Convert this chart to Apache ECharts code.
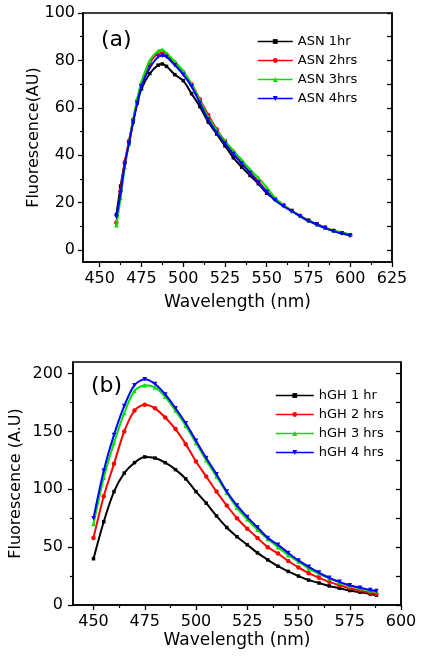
<!DOCTYPE html>
<html>
<head>
<meta charset="utf-8">
<script src="https://cdn.jsdelivr.net/npm/echarts@6/dist/echarts.min.js"></script>
<style>
html,body{margin:0;padding:0;background:#fff;}
#c{width:423px;height:661px;}
</style>
</head>
<body>
<div id="c"></div>
<script>
// ---------- Panel (a) data ----------
const waveA = [460,462.5,465,467.5,470,472.5,475,480,485,487.5,490,495,500,505,510,515,520,525,530,535,540,545,550,555,560,565,570,575,580,585,590,595,600];
const asn1 = [15,27,37,45,54,62,68,74.5,78,78.5,77.5,74,71.5,66,60.5,54,49,44,39,35,31.5,28,24,21.5,19,16.5,14.3,12.5,10.8,9.3,8.2,7.3,6.5];
const asn2 = [11.5,25,37,46,55,63,70,79,83,83.5,82.5,79,75,70,63.5,57,51,46,41.5,37,33,29,25,21.5,19,16.5,14.5,12.5,11,9.5,8.2,7.2,6.3];
const asn3 = [10.5,22,35,45,55,64,71,80,84,84.5,83,79.5,75.5,70,63,56,50.5,46,42,38,34,30.5,26.5,22,19,16.5,14.5,12.5,11,9.5,8.3,7.3,6.6];
const asn4 = [14,24,36,45,54,62,69,77,81.5,82,81.5,78,74,69,62,55,49.5,45,40.5,36.5,32.5,28.5,24.5,21,18.5,16.5,14.3,12.3,10.8,9.3,8,7,6.2];
const namesA = ['ASN 1hr','ASN 2hrs','ASN 3hrs','ASN 4hrs'];
const xTicksA = [450,475,500,525,550,575,600,625];
const xMinorA = [462.5,487.5,512.5,537.5,562.5,587.5,612.5];
const yTicksA = [0,20,40,60,80,100];
const yMinorA = [10,30,50,70,90];

// ---------- Panel (b) data ----------
const waveB = [450,455,460,465,470,475,480,485,490,495,500,505,510,515,520,525,530,535,540,545,550,555,560,565,570,575,580,585,588];
const hgh1 = [40,72,98,114,123,128,127,123,117,109,98,88,77,67,59,52,45,39,33.5,29,25,21.5,19,16.5,14.5,12.5,11,9.5,8.5];
const hgh2 = [58,94,122,150,168,173,170,162,152,139,124,111,98,86,75,66,58,50,44.5,38,32.5,27.5,23.5,20,17,14.5,12.5,10.5,9.5];
const hgh3 = [70,110,140,166,185,190,188,180,168,155,140,125,111,97,84,74,65,57,50,43,37.5,31.5,27,23,19.5,16.5,14.5,12.5,12];
const hgh4 = [75,116,147,172,190,195,191,182,170,157,142,127,113,98,86,76,67,58,52,45,38.5,33,28,23.5,20,17,15,13,12];
const namesB = ['hGH 1 hr','hGH 2 hrs','hGH 3 hrs','hGH 4 hrs'];
const xTicksB = [450,475,500,525,550,575,600];
const xMinorB = [462.5,487.5,512.5,537.5,562.5,587.5];
const yTicksB = [0,50,100,150,200];
const yMinorB = [25,75,125,175];

const colors = ['#000000','#ff0000','#00e000','#0000ff'];
const symbols = ['rect','circle','triangle','triangle'];
const rotates = [0,0,0,180];
const FONT = 'DejaVu Sans';

function pairs(xs, ys){ return xs.map((x,i)=>[x, ys[i]]); }

function mkSeries(names, xs, ysList, xi, yi){
  return ysList.map((ys,k)=>({
    name: names[k], type:'line', xAxisIndex: xi, yAxisIndex: yi,
    data: pairs(xs, ys), smooth: 0.3,
    symbol: symbols[k], symbolRotate: rotates[k], symbolSize: k===0?3.5:4.5,
    lineStyle:{color:colors[k], width:2}, itemStyle:{color:colors[k]},
    z: 2+k
  }));
}

const axLine = {show:true, onZero:false, lineStyle:{color:'#000', width:1.5}};
const lbl = {color:'#000', fontFamily:FONT, fontSize:16};

function xAxes(gi, min, max, ticks, minor, nameGap){
  return [
    {type:'value', gridIndex:gi, min:min, max:max, position:'bottom',
     axisLine:axLine, splitLine:{show:false},
     axisTick:{show:true, length:5, lineStyle:{color:'#000',width:1.3}, customValues:ticks},
     axisLabel:Object.assign({margin:9, customValues:ticks}, lbl),
     name:'Wavelength (nm)', nameLocation:'middle', nameGap:nameGap, nameMoveOverlap:false,
     nameTextStyle:{color:'#000', fontFamily:FONT, fontSize:17}},
    {type:'value', gridIndex:gi, min:min, max:max, position:'bottom',
     axisLine:{show:false, onZero:false}, splitLine:{show:false},
     axisTick:{show:true, length:3, lineStyle:{color:'#000',width:1.2}, customValues:minor},
     axisLabel:{show:false}}
  ];
}
function yAxes(gi, min, max, ticks, minor, name, nameGap, margin){
  return [
    {type:'value', gridIndex:gi, min:min, max:max, position:'left',
     axisLine:axLine, splitLine:{show:false},
     axisTick:{show:true, length:5, lineStyle:{color:'#000',width:1.3}, customValues:ticks},
     axisLabel:Object.assign({margin:margin, customValues:ticks}, lbl),
     name:name, nameLocation:'middle', nameGap:nameGap, nameRotate:90, nameMoveOverlap:false,
     nameTextStyle:{color:'#000', fontFamily:FONT, fontSize:16}},
    {type:'value', gridIndex:gi, min:min, max:max, position:'left',
     axisLine:{show:false, onZero:false}, splitLine:{show:false},
     axisTick:{show:true, length:3, lineStyle:{color:'#000',width:1.2}, customValues:minor},
     axisLabel:{show:false}},
    {type:'value', gridIndex:gi, min:min, max:max, position:'right',
     axisLine:axLine, splitLine:{show:false},
     axisTick:{show:true, inside:true, length:5, lineStyle:{color:'#000',width:1.3}, customValues:ticks.concat(minor)},
     axisLabel:{show:false}}
  ];
}

const yA = yAxes(0, -5, 100, yTicksA, yMinorA, 'Fluorescence(AU)', 41, 8);
const yB = yAxes(1, 0, 210, yTicksB, yMinorB, 'Fluorescence (A.U)', 49, 10);

const option = {
  animation:false,
  backgroundColor:'#fff',
  grid:[
    {left:83, top:13, width:309, height:249, show:true, borderColor:'#000', borderWidth:1.5, containLabel:false},
    {left:72, top:362, width:329, height:243, show:true, borderColor:'#000', borderWidth:1.5, containLabel:false}
  ],
  title:[
    {text:'(a)', left:96, top:24, textStyle:{fontFamily:FONT, fontSize:22, fontWeight:'normal', color:'#000'}},
    {text:'(b)', left:86, top:370, textStyle:{fontFamily:FONT, fontSize:22, fontWeight:'normal', color:'#000'}}
  ],
  legend:[
    {data:namesA, orient:'vertical', left:252, top:30, itemWidth:35, itemHeight:6, itemGap:6,
     itemStyle:{borderWidth:0}, lineStyle:{width:1.5},
     textStyle:{fontFamily:FONT, fontSize:13, color:'#000'}},
    {data:namesB, orient:'vertical', left:270, top:384, itemWidth:38, itemHeight:6, itemGap:6,
     itemStyle:{borderWidth:0}, lineStyle:{width:1.5},
     textStyle:{fontFamily:FONT, fontSize:13, color:'#000'}}
  ],
  xAxis: xAxes(0, 440, 625, xTicksA, xMinorA, 32).concat(xAxes(1, 440, 600, xTicksB, xMinorB, 27)),
  yAxis: [yA[0], yA[1], yA[2], yB[0], yB[1], yB[2]],
  series: mkSeries(namesA, waveA, [asn1,asn2,asn3,asn4], 0, 0)
    .concat(mkSeries(namesB, waveB, [hgh1,hgh2,hgh3,hgh4], 2, 3))
};

const chart = echarts.init(document.getElementById('c'), null, {renderer:'canvas'});
chart.setOption(option);
</script>
</body>
</html>
